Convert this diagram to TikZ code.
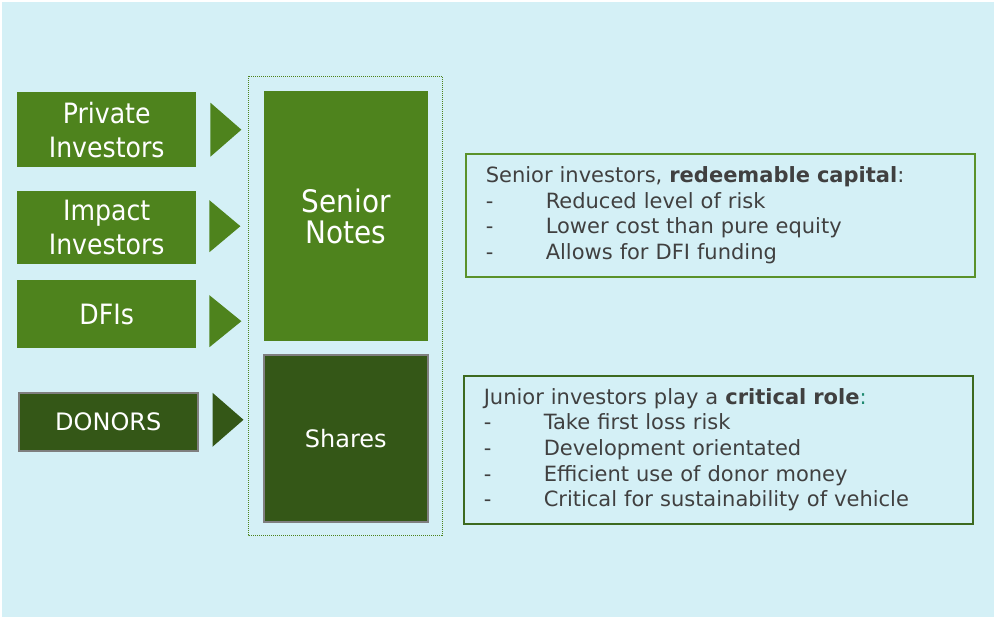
\documentclass[tikz,border=0pt]{standalone}
\usepackage{fontspec}
\setmainfont{DejaVu Sans}
\newfontfamily\condf{DejaVu Sans Condensed}
\usetikzlibrary{calc}
\definecolor{bgc}{HTML}{D4F0F6}
\definecolor{midg}{HTML}{4E831D}
\definecolor{darkg}{HTML}{345717}
\definecolor{grayb}{HTML}{7F7F7F}
\definecolor{txt}{HTML}{404040}
\definecolor{sbord}{HTML}{5A922A}
\definecolor{jbord}{HTML}{3D6A1F}
\definecolor{teal}{HTML}{1F8A70}
\tikzset{
  srcbox/.style={fill=midg, text=white, anchor=north west, inner sep=0pt, align=center,
    font=\condf\fontsize{28}{34}\selectfont},
  darkbox/.style={fill=darkg, draw=grayb, line width=1.5pt, text=white, anchor=north west,
    inner sep=0pt, align=center},
  tri/.style={fill=midg},
  tridark/.style={fill=darkg},
  infobox/.style={draw, line width=1.5pt, anchor=north west, inner sep=0pt, align=left,
    text=txt, font=\fontsize{21}{25.7}\selectfont},
}
\newcommand{\dashitem}{\makebox[60pt][l]{-}}
\begin{document}
\begin{tikzpicture}[x=1pt,y=-1pt]
\useasboundingbox (0,0) rectangle (996,619);
\fill[white] (0,0) rectangle (996,619);
\fill[bgc] (2,2) rectangle (994,617);

% dotted container
\draw[midg, line width=1pt, dash pattern=on 1pt off 1pt] (248,76) rectangle (442,535);

% source boxes
\node[srcbox, minimum width=179pt, minimum height=75pt] (priv) at (17,92) {Private\\Investors};
\node[srcbox, minimum width=179pt, minimum height=73pt] (imp) at (17,191) {Impact\\Investors};
\node[srcbox, minimum width=179pt, minimum height=68pt] (dfi) at (17,280) {DFIs};
\node[darkbox, minimum width=179pt, minimum height=58pt, font=\fontsize{24}{28}\selectfont] (don) at (18,392) {DONORS};

% tranche boxes
\node[srcbox, minimum width=164pt, minimum height=250pt, font=\condf\fontsize{31}{31}\selectfont] (sen) at (264,91) {Senior\\Notes};
\node[darkbox, minimum width=164pt, minimum height=167pt, font=\fontsize{24}{28}\selectfont] (sha) at (263,354) {Shares};

% arrow triangles
\fill[tri] ($(priv.east)+(14,-27)$) -- ++(31,27) -- ++(-31,27) -- cycle;
\fill[tri] ($(imp.east)+(13,-27.5)$) -- ++(31,26) -- ++(-31,26) -- cycle;
\fill[tri] ($(dfi.east)+(13,-19)$) -- ++(32,26) -- ++(-32,26) -- cycle;
\fill[tridark] ($(don.east)+(14,-29)$) -- ++(31,27) -- ++(-31,27) -- cycle;

% info boxes
\node[infobox, draw=sbord, minimum width=509pt, minimum height=123pt, text width=469pt] (sinfo) at (465,153)
  {Senior investors, \textbf{redeemable capital}:\\
   \dashitem Reduced level of risk\\
   \dashitem Lower cost than pure equity\\
   \dashitem Allows for DFI funding};
\node[infobox, draw=jbord, minimum width=509pt, minimum height=148pt, text width=469pt] (jinfo) at (463,375)
  {Junior investors play a \textbf{critical role}\textcolor{teal}{:}\\
   \dashitem Take first loss risk\\
   \dashitem Development orientated\\
   \dashitem Efficient use of donor money\\
   \dashitem Critical for sustainability of vehicle};
\end{tikzpicture}
\end{document}
